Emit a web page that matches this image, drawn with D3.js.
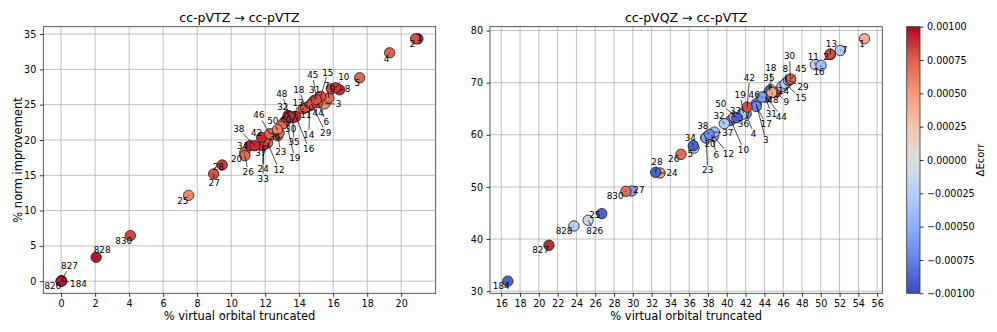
<!DOCTYPE html>
<html lang="en">
<head>
  <meta charset="UTF-8">
  <title>Truncation scatter</title>
  <style>
    body { margin: 0; background: #fff; }
    svg text { font-family: 'DejaVu Sans', sans-serif; fill: #000; }
    .tick text { font-size: 9.6px; }
    .tick line { stroke: #000; stroke-width: 0.8; }
    .grid line { stroke: #b0b0b0; stroke-width: 0.8; }
    .frame { fill: none; stroke: #333; stroke-width: 0.8; }
    .pt { stroke: #1a1a1a; stroke-width: 0.8; }
    .leader { stroke: #000; stroke-width: 0.7; }
    .lbl { font-size: 8.8px; }
  </style>
</head>
<body>
  <div id="chart"></div>
  <script src="https://d3js.org/d3.v7.min.js"></script>
  <script>
    // ---- left panel: cc-pVTZ -> cc-pVTZ ----
    const leftIds = ['1','2','3','4','5','6','7','8','9','10','11','12','13','14','15','16','18','19','20','23',
      '24','25','26','27','28','29','30','31','32','33','34','35','36','37','38','40','42','44','45','46',
      '48','50','184','826','827','828','830'];
    const leftX = [20.98,20.85,15.5,19.32,17.56,15.09,15.75,16.38,15.9,16.15,14.23,12.14,13.74,14.62,15.27,13.8,14.39,13.21,10.8,12.74,
      11.92,7.5,10.8,8.97,9.47,14.72,13.1,14.86,13.35,11.86,11.1,13.62,12.82,11.98,11.39,13.05,11.79,14.74,15.01,12.27,
      13.45,12.72,0.03,0,0,2.06,4.07];
    const leftY = [34.33,34.33,25.13,32.35,28.81,25.27,25.94,27.11,27.25,27.4,24.43,19.58,23.34,24.85,26.17,23.3,24.57,22.73,18.2,20.6,
      19.34,12.16,17.78,15.19,16.46,25.09,22.4,25.56,23.48,19.2,19.19,23.15,20.99,19.9,19.19,22.3,20.37,25.06,25.7,20.89,
      23.3,21.46,0.06,0,0,3.39,6.46];
    const leftDE = [0.0009,0.0008,0.00055,0.00075,0.00072,0.0008,0.0007,0.00088,0.0008,0.00085,0.0008,0.00072,0.0009,0.00088,0.0008,0.00088,0.0008,0.00072,0.0007,0.0007,
      0.00088,0.00058,0.0007,0.0008,0.00085,0.0007,0.0007,0.0008,0.00095,0.0009,0.00092,0.00088,0.00065,0.0008,0.0009,0.0007,0.0009,0.0008,0.0008,0.00072,
      0.0009,0.00062,0.00095,0.00095,0.00095,0.00095,0.00082];
    // where the id labels sit (data units)
    const leftLabelX = [21.1,20.67,16.31,19.14,17.42,15.6,15.62,16.85,15.97,16.62,14.39,12.82,13.93,14.56,15.68,14.56,13.98,13.74,10.32,12.92,
      11.88,7.16,11.0,9.0,9.24,15.56,13.5,14.91,13.04,11.88,10.67,13.7,12.57,11.74,10.45,13.2,11.49,15.12,14.8,11.63,
      12.98,12.45,1.02,-0.49,0.49,2.41,3.68];
    const leftLabelY = [34.4,33.62,25.13,31.5,28.1,22.55,27.68,27.25,27.25,28.95,23.58,15.8,25.32,20.75,29.56,18.77,27.11,17.4,17.31,18.25,
      15.94,11.37,15.47,13.86,16.12,21.07,21.6,27.11,24.71,14.53,19.09,19.66,20.47,18.16,21.56,22.85,20.99,23.9,29.24,23.48,
      26.55,22.63,-0.33,-0.61,2.12,4.44,5.71];

    // ---- right panel: cc-pVQZ -> cc-pVTZ ----
    const rightIds = ['1','2','3','4','5','6','7','8','9','10','11','12','13','14','15','16','17','18','19','20',
      '23','24','25','26','27','28','29','30','31','32','33','34','35','36','37','38','42','44','45','46',
      '48','50','184','826','827','828','830'];
    const rightX = [54.65,51.02,43.13,42.06,36.51,38.4,52.09,46.4,45.26,40.43,49.42,38.6,51.0,45.87,46.22,50.03,43.13,44.69,41.77,37.76,
      37.8,32.89,26.7,35.13,29.87,32.43,46.57,46.75,44.09,39.74,40.78,36.44,44.54,41.6,38.68,38.14,42.17,44.2,46.8,43.73,
      44.8,41.07,16.7,25.24,21.08,23.74,29.26];
    const rightY = [78.41,75.4,65.96,64.04,57.45,59.9,76.17,70.1,68.18,62.76,73.43,59.7,75.5,69.27,69.79,73.3,65.44,68.64,64.16,59.44,
      59.4,52.67,44.88,56.25,49.21,52.8,70.42,70.61,67.36,62.13,63.39,57.91,68.37,63.85,60.52,60.08,65.3,67.2,70.7,67.23,
      68.12,63.28,31.92,43.6,38.81,42.51,49.16];
    const rightDE = [0.0004,0.0008,-0.0008,-0.0007,-0.0003,-0.0006,-0.0003,-0.0005,0.0009,-0.0008,-0.0002,-0.0005,0.0008,-0.0004,-0.0003,-0.0004,-0.0007,0.0003,-0.0003,-0.0004,
      -0.0005,0.0005,-0.0009,0.0007,-0.0006,-0.0009,-0.0002,0.0008,-0.0008,-0.0003,0.0004,-0.0009,-0.0009,-0.0003,-0.0004,-0.0007,0.0008,-0.0008,0.0007,-0.0006,
      0.0004,-0.0009,-0.0009,-0.0001,0.0009,-0.00025,0.0007];
    const rightLabelX = [54.4,50.56,44.16,42.84,36.12,38.89,52.54,46.22,46.33,41.77,49.2,40.17,51.13,46.04,47.89,49.81,44.19,44.69,41.42,38.22,
      37.97,34.17,25.95,34.35,30.65,32.57,48.11,46.68,44.73,39.18,40.92,36.12,44.48,41.77,40.11,37.44,42.41,45.8,47.89,42.91,
      44.91,39.36,16.0,25.95,20.19,22.68,28.12];
    const rightLabelY = [77.45,74.88,58.93,60.21,56.25,56.05,76.3,72.66,66.26,57.15,74.9,56.38,77.45,68.51,67.03,72.01,62.13,72.85,67.68,58.3,
      53.18,52.66,44.56,55.42,49.35,54.85,69.27,75.08,64.04,63.58,64.67,59.37,70.86,62.13,60.4,61.74,70.86,63.52,72.59,67.68,
      66.78,65.96,30.96,41.49,37.85,41.49,48.33];

    const leftXTicks = d3.range(0, 21, 2);
    const leftYTicks = d3.range(0, 36, 5);
    const rightXTicks = d3.range(16, 57, 2);
    const rightYTicks = d3.range(30, 81, 10);
    const cbarTicks = [-0.001, -0.00075, -0.0005, -0.00025, 0, 0.00025, 0.0005, 0.00075, 0.001];
    // matplotlib coolwarm, sampled every 1/8
    const coolwarm = ['#3b4cc0','#6282ea','#8db0fe','#b8d0f9','#dddddd','#f5c4ad','#f49a7b','#de604d','#b40426'];

    const W = 997, H = 332;
    const TOP = 26.7, BOTTOM = 293.3;

    const color = d3.scaleLinear()
      .domain(coolwarm.map((c, i) => -0.001 + i * 0.002 / (coolwarm.length - 1)))
      .range(coolwarm)
      .clamp(true);

    const svg = d3.select('#chart').append('svg')
      .attr('width', W).attr('height', H);

    function padded(vals) {
      const lo = d3.min(vals), hi = d3.max(vals), m = (hi - lo) * 0.05;
      return [lo - m, hi + m];
    }

    function drawPanel(p) {
      const x = d3.scaleLinear().domain(padded(p.xs)).range([p.left, p.right]);
      const y = d3.scaleLinear().domain(padded(p.ys)).range([BOTTOM, TOP]);
      const g = svg.append('g');

      // grid
      const grid = g.append('g').attr('class', 'grid');
      grid.selectAll('.gx').data(p.xTicks).join('line')
        .attr('x1', d => x(d)).attr('x2', d => x(d)).attr('y1', TOP).attr('y2', BOTTOM);
      grid.selectAll('.gy').data(p.yTicks).join('line').attr('class', 'gy')
        .attr('y1', d => y(d)).attr('y2', d => y(d)).attr('x1', p.left).attr('x2', p.right);

      const data = p.ids.map((id, i) => ({id, x: p.xs[i], y: p.ys[i], de: p.de[i], lx: p.lx[i], ly: p.ly[i]}));

      g.append('g').selectAll('circle').data(data).join('circle')
        .attr('class', 'pt')
        .attr('cx', d => x(d.x)).attr('cy', d => y(d.y)).attr('r', 5.2)
        .attr('fill', d => color(d.de));

      const leaders = g.append('g');
      const labels = g.append('g').selectAll('text').data(data).join('text')
        .attr('class', 'lbl')
        .attr('x', d => x(d.lx)).attr('y', d => y(d.ly))
        .attr('text-anchor', 'middle').attr('dy', '0.35em')
        .text(d => d.id);

      // leader line from the edge of each label to its point
      labels.each(function (d) {
        const bb = this.getBBox();
        const cx = bb.x + bb.width / 2, cy = bb.y + bb.height / 2;
        const px = x(d.x), py = y(d.y);
        const dx = px - cx, dy = py - cy;
        const hw = bb.width / 2 + 1, hh = bb.height / 2;
        const t = Math.min(dx ? hw / Math.abs(dx) : Infinity, dy ? hh / Math.abs(dy) : Infinity);
        if (t >= 1) return;
        leaders.append('line').attr('class', 'leader')
          .attr('x1', cx + t * dx).attr('y1', cy + t * dy)
          .attr('x2', px).attr('y2', py);
      });

      g.append('rect').attr('class', 'frame')
        .attr('x', p.left).attr('y', TOP)
        .attr('width', p.right - p.left).attr('height', BOTTOM - TOP);

      const xa = g.append('g').attr('transform', `translate(0,${BOTTOM})`)
        .call(d3.axisBottom(x).tickValues(p.xTicks).tickSize(3.5).tickPadding(3.5).tickFormat(d3.format('d')));
      const ya = g.append('g').attr('transform', `translate(${p.left},0)`)
        .call(d3.axisLeft(y).tickValues(p.yTicks).tickSize(3.5).tickPadding(3.5).tickFormat(d3.format('d')));
      xa.select('.domain').remove();
      ya.select('.domain').remove();
      xa.selectAll('text').attr('font-family', null).attr('font-size', null);
      ya.selectAll('text').attr('font-family', null).attr('font-size', null);

      const mid = (p.left + p.right) / 2;
      g.append('text').attr('x', mid).attr('y', 21.5)
        .attr('text-anchor', 'middle').style('font-size', '12.5px').text(p.title);
      g.append('text').attr('x', mid).attr('y', 319.5)
        .attr('text-anchor', 'middle').style('font-size', '11.5px').text('% virtual orbital truncated');
      if (p.yLabel) {
        g.append('text')
          .attr('transform', `translate(22,${(TOP + BOTTOM) / 2}) rotate(-90)`)
          .attr('text-anchor', 'middle').style('font-size', '11.5px').text(p.yLabel);
      }
    }

    drawPanel({
      ids: leftIds, xs: leftX, ys: leftY, de: leftDE, lx: leftLabelX, ly: leftLabelY,
      left: 43.3, right: 435.7, xTicks: leftXTicks, yTicks: leftYTicks,
      title: 'cc-pVTZ \u2192 cc-pVTZ', yLabel: '% norm improvement'
    });
    drawPanel({
      ids: rightIds, xs: rightX, ys: rightY, de: rightDE, lx: rightLabelX, ly: rightLabelY,
      left: 490, right: 882.3, xTicks: rightXTicks, yTicks: rightYTicks,
      title: 'cc-pVQZ \u2192 cc-pVTZ', yLabel: null
    });

    // ---- colorbar ----
    const cb = svg.append('g');
    const grad = svg.append('defs').append('linearGradient')
      .attr('id', 'cw').attr('x1', 0).attr('y1', 1).attr('x2', 0).attr('y2', 0);
    grad.selectAll('stop').data(coolwarm).join('stop')
      .attr('offset', (d, i) => i / (coolwarm.length - 1))
      .attr('stop-color', d => d);
    const cbX = 906.7, cbW = 13.3;
    cb.append('rect').attr('x', cbX).attr('y', TOP).attr('width', cbW).attr('height', BOTTOM - TOP)
      .attr('fill', 'url(#cw)').attr('stroke', '#333').attr('stroke-width', 0.8);
    const cbScale = d3.scaleLinear().domain([-0.001, 0.001]).range([BOTTOM, TOP]);
    const cba = cb.append('g').attr('transform', `translate(${cbX + cbW},0)`)
      .call(d3.axisRight(cbScale).tickValues(cbarTicks).tickSize(3.5).tickPadding(3.5).tickFormat(d3.format('.5f')));
    cba.select('.domain').remove();
    cba.selectAll('text').attr('font-family', null).attr('font-size', null);
    cb.append('text')
      .attr('transform', `translate(984,${(TOP + BOTTOM) / 2}) rotate(-90)`)
      .attr('text-anchor', 'middle').style('font-size', '10px').text('\u0394Ecorr');
  </script>
</body>
</html>
